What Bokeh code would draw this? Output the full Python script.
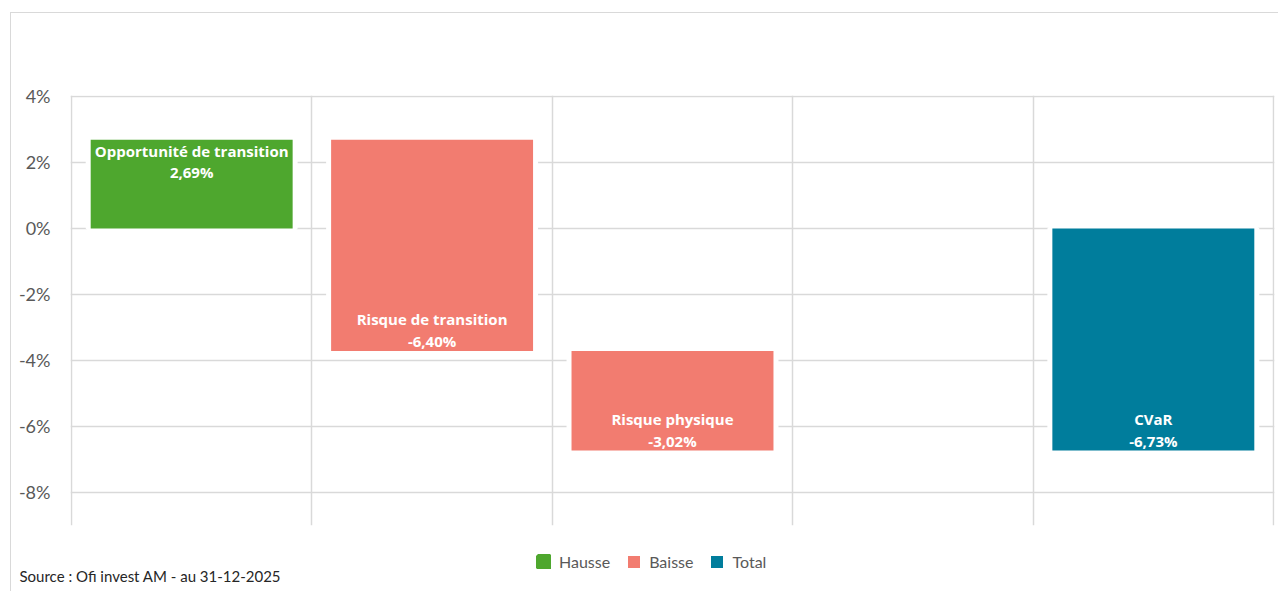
from bokeh.plotting import figure
from bokeh.layouts import column
from bokeh.models import (ColumnDataSource, Range1d, FixedTicker, PrintfTickFormatter,
                          Legend, LegendItem, Label)
from bokeh.core.properties import value
from bokeh.embed import file_html
from bokeh.resources import INLINE

# ---- data ----
categories = ["Opportunité de transition", "Risque de transition", "Risque physique", "", "CVaR"]
changes = [2.69, -6.40, -3.02, None, None]
total_value = -6.73
value_labels = ["2,69%", "-6,40%", "-3,02%", "", "-6,73%"]
kinds = ["Hausse", "Baisse", "Baisse", None, "Total"]
y_ticks = [-8, -6, -4, -2, 0, 2, 4]
legend_names = ["Hausse", "Baisse", "Total"]
source_text = "Source : Ofi invest AM - au 31-12-2025"

colors = {"Hausse": "#4EA72E", "Baisse": "#F27C70", "Total": "#007D9C"}

# ---- waterfall geometry from the data ----
xs, bottoms, tops, ends, kind_col, names, vals = [], [], [], [], [], [], []
running = 0.0
for i, cat in enumerate(categories):
    k = kinds[i]
    if k is None:
        continue
    if k == "Total":
        start, stop = 0.0, total_value
    else:
        start, stop = running, running + changes[i]
        running = stop
    xs.append(i + 0.5)
    bottoms.append(min(start, stop))
    tops.append(max(start, stop))
    ends.append(stop)
    kind_col.append(k)
    names.append(cat)
    vals.append(value_labels[i])

# positive bar -> label inside top, negative bar -> label inside bottom
pos = [t == e for t, e in zip(tops, ends)]
name_off = [11 if q else -32 for q in pos]
val_off = [32 if q else -10 for q in pos]

src = ColumnDataSource(dict(x=xs, bottom=bottoms, top=tops, end=ends,
                            name=names, val=vals, noff=name_off, voff=val_off))

BORDER = "1px solid #d9d9d9"

# ---- main chart ----
p = figure(width=1268, height=527, output_backend="svg", toolbar_location=None,
           x_range=Range1d(-0.004, len(categories) + 0.004), y_range=Range1d(-9, 4.03),
           min_border_left=59, min_border_top=82, min_border_right=5, min_border_bottom=15)
p.frame_align = False
p.styles = {"margin-left": "10px", "margin-top": "12px",
            "border-left": BORDER, "border-top": BORDER}
p.outline_line_color = None
p.background_fill_color = "white"
p.border_fill_color = "white"

p.xaxis.visible = False
p.xgrid.ticker = FixedTicker(ticks=list(range(len(categories) + 1)))
p.xgrid.grid_line_color = "#d9d9d9"
p.xgrid.grid_line_width = 1.5

p.yaxis.ticker = FixedTicker(ticks=y_ticks)
p.yaxis.formatter = PrintfTickFormatter(format="%d%%")
p.yaxis.axis_line_color = None
p.yaxis.major_tick_line_color = None
p.yaxis.minor_tick_line_color = None
p.yaxis.major_label_text_font = "Lato"
p.yaxis.major_label_text_font_size = "18px"
p.yaxis.major_label_text_color = "#595959"
p.yaxis.major_label_standoff = 14
p.ygrid.grid_line_color = "#d9d9d9"
p.ygrid.grid_line_width = 1.5

bw = 0.84
# white halo around bars (hides grid near the bar edges)
p.vbar(x="x", bottom="bottom", top="top", width=bw, source=src,
       fill_color="white", line_color="white", line_width=10)

for k in legend_names:
    idx = [j for j, kk in enumerate(kind_col) if kk == k]
    s = ColumnDataSource(dict(x=[xs[j] for j in idx], bottom=[bottoms[j] for j in idx],
                              top=[tops[j] for j in idx]))
    p.vbar(x="x", bottom="bottom", top="top", width=bw, source=s,
           fill_color=colors[k], line_color=None)

p.text(x="x", y="end", text="name", y_offset="noff", source=src,
       text_font=value("Open Sans"), text_font_style="bold", text_font_size="15px",
       text_color="white", text_align="center", text_baseline="middle")
p.text(x="x", y="end", text="val", y_offset="voff", source=src,
       text_font=value("Open Sans"), text_font_style="bold", text_font_size="15px",
       text_color="white", text_align="center", text_baseline="middle")

# ---- footer strip: legend + source ----
p2 = figure(width=1268, height=52, output_backend="svg", toolbar_location=None,
            x_range=Range1d(0, 1268), y_range=Range1d(0, 52),
            x_axis_type=None, y_axis_type=None,
            min_border_left=0, min_border_right=0, min_border_top=0, min_border_bottom=0)
p2.frame_align = False
p2.styles = {"margin-left": "10px", "border-left": BORDER}
p2.outline_line_color = None
p2.xgrid.visible = False
p2.ygrid.visible = False

proxies = {}
for k in legend_names:
    lw = 4 if k == "Hausse" else 0
    proxies[k] = p2.vbar(x=[0], bottom=[0], top=[0], width=0, fill_color=colors[k],
                         line_color=colors[k], line_width=lw, line_alpha=1 if lw else 0)

legend = Legend(items=[LegendItem(label=k, renderers=[proxies[k]]) for k in legend_names],
                orientation="horizontal", location=(525, 20),
                glyph_width=15, glyph_height=15, label_standoff=8, spacing=16,
                padding=0, margin=0, border_line_alpha=0, background_fill_alpha=0,
                label_text_font="Lato", label_text_font_size="16px",
                label_text_color="#595959")
p2.add_layout(legend, "center")

p2.add_layout(Label(x=8, y=16, text=source_text, text_font="Lato",
                    text_font_size="15px", text_color="#262626",
                    text_baseline="middle"))

open("out.html", "w").write(file_html(column(p, p2), INLINE))
